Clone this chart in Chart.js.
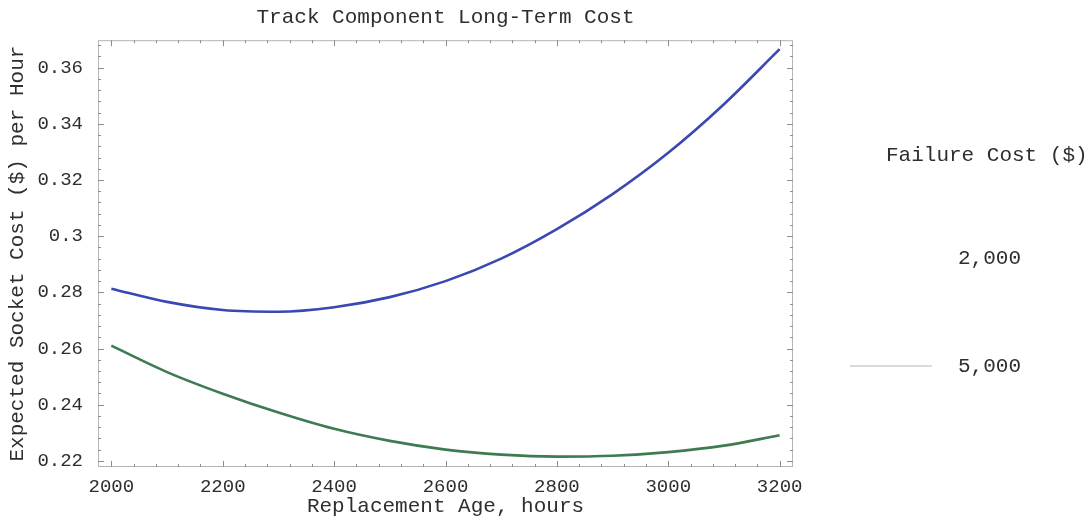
<!DOCTYPE html>
<html>
<head>
<meta charset="utf-8">
<title>Track Component Long-Term Cost</title>
<script src="https://cdn.jsdelivr.net/npm/chart.js@4/dist/chart.umd.min.js"></script>
<style>
  html, body { margin: 0; padding: 0; background: #ffffff; }
  #wrap { position: relative; width: 1092px; height: 519px; }
</style>
</head>
<body>
<div id="wrap"><canvas id="chart" width="1092" height="519"></canvas></div>
<script>
// Replacement age (hours) at which the cost rate is evaluated
const hours = [2000, 2100, 2200, 2300, 2400, 2500, 2600, 2700, 2800, 2900, 3000, 3100, 3200];

// Expected socket cost ($ per hour) for each failure cost
const costUpper = [0.2813, 0.2766, 0.2737, 0.2731, 0.2747, 0.2783, 0.2840, 0.2920, 0.3025, 0.3150, 0.3297, 0.3470, 0.3666];
const costLower = [0.2610, 0.2516, 0.2439, 0.2372, 0.2314, 0.2271, 0.2240, 0.2222, 0.2215, 0.2218, 0.2231, 0.2254, 0.2291];

// Legend entries
const legendLabels = ['2,000', '5,000'];

// Labelled tick values
const xTicks = [2000, 2200, 2400, 2600, 2800, 3000, 3200];
const yTicks = [0.22, 0.24, 0.26, 0.28, 0.30, 0.32, 0.34, 0.36];

const FONT = '"Liberation Mono", "Courier New", monospace';
const TEXT = '#2e2e2e';

// Frame with inward major/minor ticks on all four sides
const framePlugin = {
  id: 'frameTicks',
  afterDatasetsDraw(chart) {
    const { ctx, chartArea: a, scales: { x, y } } = chart;
    ctx.save();
    ctx.strokeStyle = '#b4b4b4';
    ctx.lineWidth = 1;
    ctx.strokeRect(a.left + 0.5, a.top + 0.5, a.right - a.left - 1, a.bottom - a.top - 1);
    ctx.strokeStyle = '#8c8c8c';
    ctx.beginPath();
    for (let v = 1960; v <= 3240; v += 40) {
      const px = Math.round(x.getPixelForValue(v)) + 0.5;
      if (px <= a.left + 1 || px >= a.right - 1) continue;
      const len = v % 200 === 0 ? 6 : 3;
      ctx.moveTo(px, a.bottom); ctx.lineTo(px, a.bottom - len);
      ctx.moveTo(px, a.top); ctx.lineTo(px, a.top + len);
    }
    for (let i = 54; i <= 93; i++) {
      const v = i * 0.004;
      const py = Math.round(y.getPixelForValue(v)) + 0.5;
      if (py <= a.top + 1 || py >= a.bottom - 1) continue;
      const major = Math.abs((v / 0.02) - Math.round(v / 0.02)) < 1e-6;
      const len = major ? 6 : 3;
      ctx.moveTo(a.left, py); ctx.lineTo(a.left + len, py);
      ctx.moveTo(a.right, py); ctx.lineTo(a.right - len, py);
    }
    ctx.stroke();
    ctx.restore();
  }
};

// Legend block to the right of the plot
const sideLegend = {
  id: 'sideLegend',
  afterDraw(chart) {
    const { ctx, chartArea: a } = chart;
    ctx.save();
    ctx.fillStyle = TEXT;
    ctx.font = '21px ' + FONT;
    ctx.textBaseline = 'middle';
    ctx.textAlign = 'left';
    ctx.fillText('Failure Cost ($)', a.right + 93, 155);
    const rows = [258, 366];
    const swatch = ['rgba(255,255,255,0)', '#adbcbf'];
    legendLabels.forEach((lab, i) => {
      ctx.fillStyle = TEXT;
      ctx.fillText(lab, a.right + 165, rows[i]);
      ctx.strokeStyle = swatch[i];
      ctx.lineWidth = 1.2;
      ctx.beginPath();
      ctx.moveTo(a.right + 57, rows[i]);
      ctx.lineTo(a.right + 139, rows[i]);
      ctx.stroke();
    });
    ctx.restore();
  }
};

new Chart(document.getElementById('chart'), {
  type: 'line',
  data: {
    labels: hours,
    datasets: [
      {
        label: legendLabels[0],
        data: hours.map((h, i) => ({ x: h, y: costUpper[i] })),
        borderColor: '#3a48b2',
        borderWidth: 2.6,
        pointRadius: 0,
        cubicInterpolationMode: 'monotone',
        fill: false
      },
      {
        label: legendLabels[1],
        data: hours.map((h, i) => ({ x: h, y: costLower[i] })),
        borderColor: '#3e7b50',
        borderWidth: 2.6,
        pointRadius: 0,
        cubicInterpolationMode: 'monotone',
        fill: false
      }
    ]
  },
  options: {
    responsive: false,
    animation: false,
    layout: { padding: { left: 0, right: 299, top: 0, bottom: 0 } },
    plugins: {
      legend: { display: false },
      tooltip: { enabled: false },
      title: {
        display: true,
        text: 'Track Component Long-Term Cost',
        fullSize: false,
        color: TEXT,
        font: { family: FONT, size: 21, weight: 'normal', lineHeight: 1.2 },
        padding: { top: 5, bottom: 10 }
      }
    },
    scales: {
      x: {
        type: 'linear',
        min: 1976,
        max: 3224,
        grid: { display: false },
        border: { display: false },
        afterBuildTicks(scale) { scale.ticks = xTicks.map(v => ({ value: v })); },
        afterFit(scale) { scale.height = 52; },
        ticks: {
          color: TEXT,
          padding: 1,
          maxRotation: 0,
          font: { family: FONT, size: 19 },
          callback: v => String(v)
        },
        title: {
          display: true,
          text: 'Replacement Age, hours',
          color: TEXT,
          font: { family: FONT, size: 21, lineHeight: 1.2 },
          padding: { top: 0, bottom: 0 }
        }
      },
      y: {
        type: 'linear',
        min: 0.2178,
        max: 0.3698,
        grid: { display: false },
        border: { display: false },
        afterBuildTicks(scale) { scale.ticks = yTicks.map(v => ({ value: v })); },
        afterFit(scale) { scale.width = 98; },
        ticks: {
          color: TEXT,
          padding: 7,
          font: { family: FONT, size: 19 },
          callback: v => String(Number(v.toFixed(2)))
        },
        title: {
          display: true,
          text: 'Expected Socket Cost ($) per Hour',
          color: TEXT,
          font: { family: FONT, size: 21, lineHeight: 1.2 },
          padding: { top: 5, bottom: 0 }
        }
      }
    }
  },
  plugins: [framePlugin, sideLegend]
});
</script>
</body>
</html>
